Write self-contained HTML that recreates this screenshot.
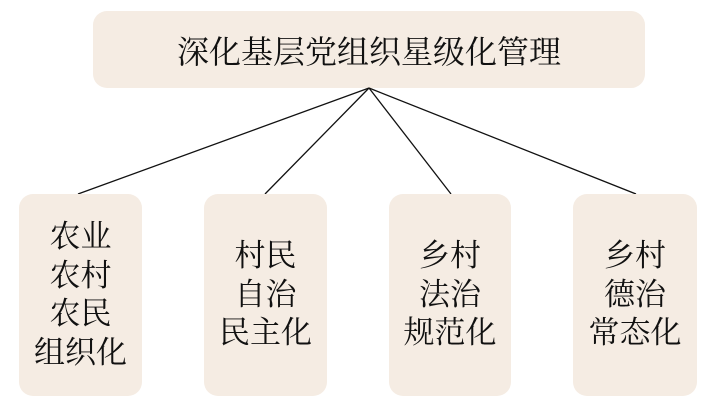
<!DOCTYPE html>
<html><head><meta charset="utf-8"><style>
body{margin:0;width:717px;height:406px;background:#fff;position:relative;overflow:hidden;font-family:"Liberation Serif","Noto Serif CJK SC",serif;color:#111}
.b{position:absolute;background:#f5ece3;border-radius:14px;display:flex;flex-direction:column;align-items:center;justify-content:center;text-align:center}
.s div{font-size:31px;height:38.5px;line-height:38.5px;white-space:nowrap}
svg{position:absolute;left:0;top:0}
</style></head><body>
<div class="b" style="left:93px;top:11px;width:552px;height:77px;font-size:32px;">深化基层党组织星级化管理</div>
<svg width="717" height="406"><g stroke="#111" stroke-width="1.3">
<line x1="369" y1="88" x2="78" y2="194"/>
<line x1="369" y1="88" x2="265" y2="194"/>
<line x1="369" y1="88" x2="451" y2="194"/>
<line x1="369" y1="88" x2="636" y2="194"/></g></svg>
<div class="b s" style="left:19px;top:194px;width:123px;height:202px;"><div>农业</div><div>农村</div><div>农民</div><div>组织化</div></div>
<div class="b s" style="left:204px;top:194px;width:123px;height:202px;"><div>村民</div><div>自治</div><div>民主化</div></div>
<div class="b s" style="left:389px;top:194px;width:122px;height:202px;"><div>乡村</div><div>法治</div><div>规范化</div></div>
<div class="b s" style="left:573px;top:194px;width:124px;height:202px;"><div>乡村</div><div>德治</div><div>常态化</div></div>
</body></html>
